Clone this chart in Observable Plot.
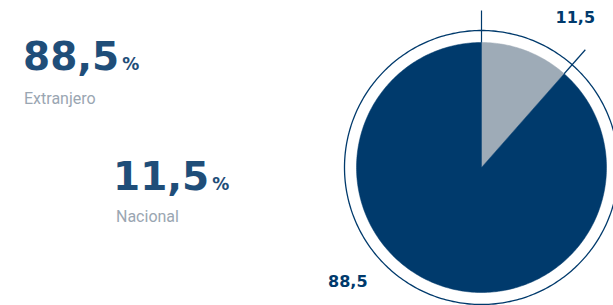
<!DOCTYPE html>
<html><head><meta charset="utf-8">
<script src="https://cdn.jsdelivr.net/npm/d3@7"></script>
<script src="https://cdn.jsdelivr.net/npm/@observablehq/plot@0.6"></script>
<style>
body{margin:0;background:#fff;}
#wrap{position:relative;width:613px;height:305px;overflow:hidden;}
#chart{position:absolute;left:0;top:0;}
.big{position:absolute;font-family:"DejaVu Sans";font-weight:bold;color:#1f4e79;font-size:39px;line-height:39px;white-space:nowrap;}
.big span{font-size:17px;margin-left:3px;}
.lab{position:absolute;font-family:Roboto;font-size:16px;line-height:16px;color:#9aa6b2;white-space:nowrap;}
</style></head>
<body>
<div id="wrap"><div id="chart"></div></div>
<script>
const categories = ["Nacional", "Extranjero"];
const values = [11.5, 88.5];
const valueLabels = ["11,5", "88,5"];
const colors = ["#9eabb7", "#003a6c"];

const total = d3.sum(values);
let acc = 0;
const slices = categories.map((c, i) => {
  const a0 = acc / total * 2 * Math.PI;
  acc += values[i];
  const a1 = acc / total * 2 * Math.PI;
  return {category: c, value: values[i], label: valueLabels[i], color: colors[i], a0, a1};
});

const slicePts = [];
for (const s of slices) {
  slicePts.push({category: s.category, x: 0, y: 0});
  const n = Math.max(2, Math.ceil((s.a1 - s.a0) / (Math.PI / 180)));
  for (let k = 0; k <= n; k++) {
    const a = s.a0 + (s.a1 - s.a0) * k / n;
    slicePts.push({category: s.category, x: Math.sin(a), y: Math.cos(a)});
  }
  slicePts.push({category: s.category, x: 0, y: 0});
}
const ringR = 1.096;
const ring = d3.range(0, 361).map(d => ({x: ringR * Math.sin(d * Math.PI / 180), y: ringR * Math.cos(d * Math.PI / 180)}));
const ticks = slices.map(s => ({x1: Math.sin(s.a0), y1: Math.cos(s.a0), x2: 1.256 * Math.sin(s.a0), y2: 1.256 * Math.cos(s.a0)}));
const labelOffsets = [0.2, 0.5];
const labels = slices.map((s, i) => {
  const a = (s.a0 + s.a1) / 2 + labelOffsets[i];
  return {label: s.label, x: 1.41 * Math.sin(a), y: 1.41 * Math.cos(a)};
});

const plot = Plot.plot({
  width: 613, height: 305,
  marginTop: 0, marginBottom: 0, marginLeft: 0, marginRight: 0,
  x: {domain: [-1, 1], range: [356, 606], axis: null},
  y: {domain: [-1, 1], range: [292, 42], axis: null},
  color: {domain: categories, range: colors},
  style: {overflow: "visible"},
  marks: [
    Plot.line(slicePts, {x: "x", y: "y", z: "category", fill: "category", stroke: "category", strokeWidth: 0.5, curve: "linear"}),
    Plot.line(ring, {x: "x", y: "y", stroke: "#003a6c", strokeWidth: 1.3}),
    Plot.link(ticks, {x1: "x1", y1: "y1", x2: "x2", y2: "y2", stroke: "#003a6c", strokeWidth: 1.2}),
    Plot.text(labels, {x: "x", y: "y", text: "label", fill: "#003a6c", fontSize: 16, fontWeight: "bold", fontFamily: "DejaVu Sans"})
  ]
});
document.getElementById("chart").appendChild(plot);

const wrap = document.getElementById("wrap");
const blocks = [
  {v: valueLabels[1], name: categories[1], left: 23, top: 37, lleft: 24, ltop: 91},
  {v: valueLabels[0], name: categories[0], left: 113, top: 157, lleft: 116, ltop: 209}
];
for (const b of blocks) {
  const d = document.createElement("div");
  d.className = "big";
  d.style.left = b.left + "px"; d.style.top = b.top + "px";
  d.innerHTML = b.v + "<span>%</span>";
  wrap.appendChild(d);
  const l = document.createElement("div");
  l.className = "lab";
  l.style.left = b.lleft + "px"; l.style.top = b.ltop + "px";
  l.textContent = b.name;
  wrap.appendChild(l);
}
</script>
</body></html>
